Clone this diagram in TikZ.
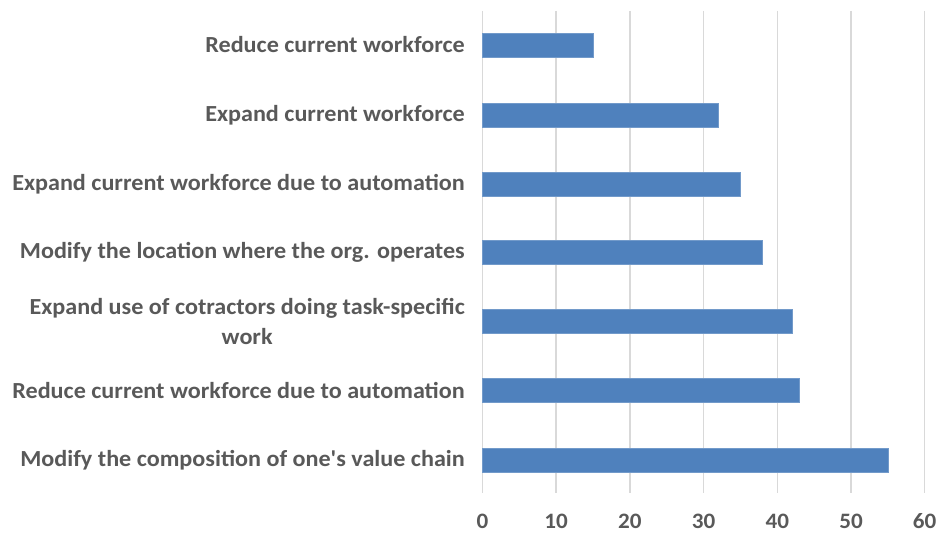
\documentclass[tikz,border=0pt]{standalone}
\usepackage{fontspec}
\setmainfont{Carlito}[Ligatures=TeXOff, FakeStretch=1.05]
\begin{document}
\begin{tikzpicture}[x=1pt,y=-1pt,
  lbl/.style={font=\fontsize{23}{30}\selectfont\bfseries, text=txtgray, anchor=east, inner sep=0pt, align=center},
  tick/.style={font=\fontsize{22}{26}\selectfont\bfseries, text=txtgray, inner sep=0pt, text depth=0pt, anchor=base},
  grid/.style={draw=gridgray, line width=1.5pt},
  bar/.style={fill=barblue, draw=barblue!80!white, line width=0.6pt}]
\definecolor{txtgray}{HTML}{595959}
\definecolor{gridgray}{HTML}{D9D9D9}
\definecolor{barblue}{HTML}{4F81BD}
\useasboundingbox (0,0) rectangle (938,535);
\def\xz{482.5}
\def\u{7.37}
\foreach \v in {0,10,...,60} {
  \coordinate (gt\v) at ({\xz+\v*\u},11);
  \coordinate (gb\v) at ({\xz+\v*\u},493);
  \draw[grid] (gt\v) -- (gb\v);
  \node[tick] (t\v) at ({\xz+\v*\u},528) {\v};
}
% bars: name, value, centre y, label
\foreach \n/\val/\yc/\txt in {
  1/15/45/{Reduce current workforce},
  2/32/115/{Expand current workforce},
  3/35/184/{Expand current workforce due to automation},
  4/38/252/{Modify the location where the org. operates},
  5/42/321/{Expand use of cotractors doing task-specific\\work},
  6/43/390/{Reduce current workforce due to automation},
  7/55/460/{Modify the composition of one's value chain}} {
  \path[bar] (\xz,\yc-12) rectangle ({\xz+\val*\u},\yc+12);
  \node[lbl] (l\n) at (465,\yc) {\txt};
}
\end{tikzpicture}
\end{document}
